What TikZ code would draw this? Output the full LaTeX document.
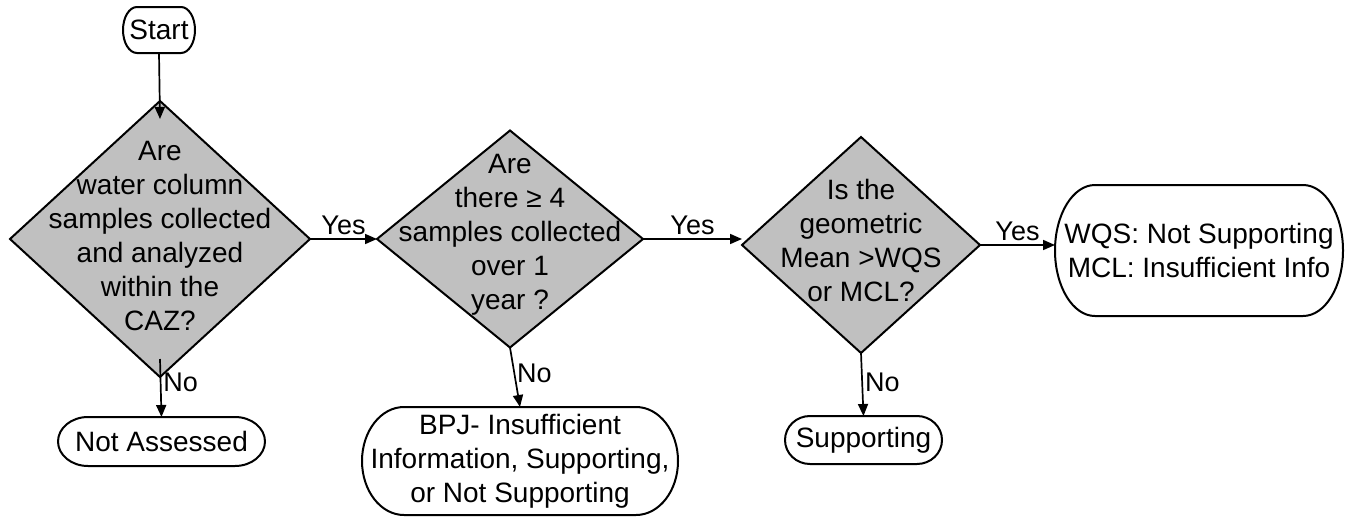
\documentclass[tikz,border=0pt]{standalone}
\usepackage{fontspec}
\setmainfont{Liberation Sans}
\usetikzlibrary{shapes.geometric,arrows.meta}
\definecolor{diagray}{RGB}{192,192,192}
\newcommand{\termframe}[3]{\draw[frame] ([xshift=#2]#1.north west) -- ([xshift=-#2]#1.north east) arc[start angle=90,end angle=-90,x radius=#2,y radius=#3] -- ([xshift=#2]#1.south west) arc[start angle=270,end angle=90,x radius=#2,y radius=#3] -- cycle;}
\begin{document}
\begin{tikzpicture}[x=1pt,y=1pt,
  dia/.style={diamond, draw, fill=diagray, line width=2pt, inner sep=0pt, outer sep=0pt},
  txt/.style={align=center, inner sep=0pt, font=\fontsize{28}{34}\selectfont},
  term/.style={rectangle, inner sep=0pt, outer sep=0pt, align=center, font=\fontsize{28}{34}\selectfont},
  frame/.style={line width=2pt, line join=round},
  arr/.style={line width=1.7pt, -{Triangle[length=12pt,width=10pt]}},
  lbl/.style={font=\fontsize{27}{30}\selectfont, inner sep=2pt, text=black}]
\fill[white] (0,0) rectangle (1346,-517);
\useasboundingbox (0,0) rectangle (1346,-517);

% terminals
\node[term, minimum width=72pt, minimum height=46pt] (start) at (159,-30) {Start};
\termframe{start}{14pt}{23pt}
\node[term, minimum width=207pt, minimum height=49pt] (na) at (161.5,-441.5) {Not Assessed};
\termframe{na}{30pt}{24.5pt}
\node[term, minimum width=316pt, minimum height=108pt] (bpj) at (520,-461) {BPJ- Insufficient\\Information, Supporting,\\or Not Supporting};
\termframe{bpj}{42pt}{54pt}
\node[term, minimum width=157pt, minimum height=48pt] (sup) at (863.5,-440) {Supporting};
\termframe{sup}{25pt}{24pt}
\node[term, minimum width=288pt, minimum height=131pt] (wqs) at (1199,-250.5) {WQS: Not Supporting\\MCL: Insufficient Info};
\termframe{wqs}{40pt}{65.5pt}

% decisions
\node[dia, minimum width=300pt, minimum height=276pt] (d1) at (160,-239) {};
\node[txt] (d1t) at (160,-236) {Are\\water column\\samples collected\\and analyzed\\within the\\CAZ?};
\node[dia, minimum width=266pt, minimum height=217pt] (d2) at (510,-239) {};
\node[txt] (d2t) at (510,-235) {Are\\there ≥ 4\\samples collected\\over 1\\year ?};
\node[dia, minimum width=238pt, minimum height=216pt] (d3) at (861,-245) {};
\node[txt] (d3t) at (861,-240) {Is the\\geometric\\Mean >WQS\\or MCL?};

% connectors
\draw[arr] (start.south) -- ([yshift=-18pt]d1.north);
\draw[arr] (d1.east) -- (d1.east -| d2.west) node[lbl, midway, above=1pt] {Yes};
\draw[arr] (d2.east) -- (d2.east -| d3.west) node[lbl, midway, above=1pt] {Yes};
\draw[arr] (d3.east) -- (d3.east -| wqs.west) node[lbl, midway, above=1pt] {Yes};
\draw[arr] ([yshift=18pt]d1.south) -- (na.north) node[lbl, pos=0.4, right] {No};
\draw[arr] (d2.south) -- (bpj.north) node[lbl, pos=0.43, right] {No};
\draw[arr] (d3.south) -- (sup.north) node[lbl, pos=0.46, right] {No};
\end{tikzpicture}
\end{document}
